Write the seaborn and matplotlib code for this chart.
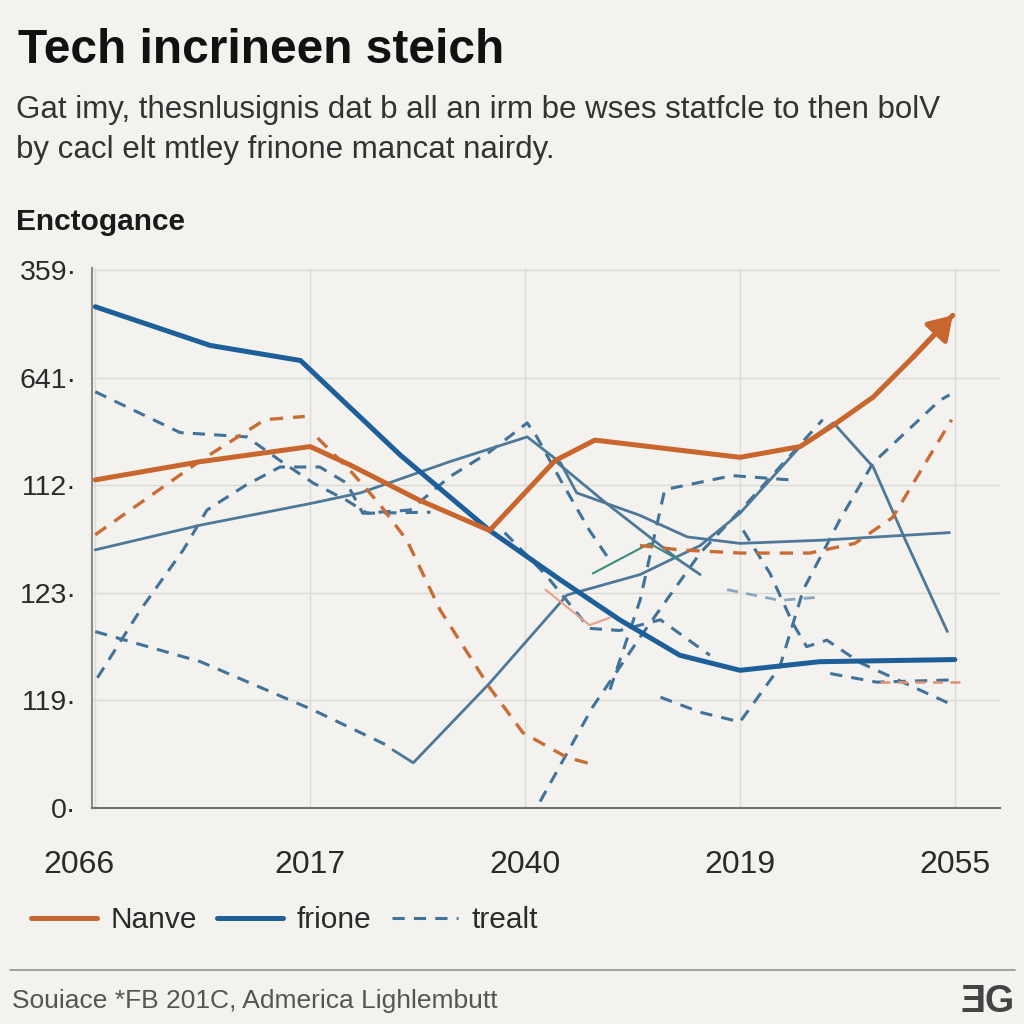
# Tech line chart - recreated with seaborn
import numpy as np
import pandas as pd
import matplotlib.pyplot as plt
import seaborn as sns
from matplotlib.lines import Line2D
from matplotlib.transforms import ScaledTranslation

# Axis labels
x_ticks = [0, 2, 4, 6, 8]
x_labels = ["2066", "2017", "2040", "2019", "2055"]
y_ticks = [0, 1, 2, 3, 4, 5]
y_labels = ["0·", "119·", "123·", "112·", "641·", "359·"]

# Main series
nanve_x = [0, 0.98, 2.0, 2.37, 3.02, 3.67, 4.28, 4.65, 6.0, 6.56, 6.87, 7.24, 7.61, 7.98]
nanve_y = [3.05, 3.22, 3.36, 3.19, 2.86, 2.58, 3.23, 3.42, 3.26, 3.36, 3.56, 3.82, 4.19, 4.58]

frione_x = [0, 1.07, 1.91, 2.84, 3.67, 4.33, 4.88, 5.44, 6.0, 6.74, 8.0]
frione_y = [4.66, 4.30, 4.16, 3.28, 2.58, 2.12, 1.75, 1.42, 1.28, 1.36, 1.38]

# Orange dashed traces
orange_a_x = [0, 0.98, 1.58, 1.95]
orange_a_y = [2.54, 3.23, 3.61, 3.64]
orange_b_x = [2.07, 2.37, 2.65, 2.90, 3.21, 3.67, 3.98, 4.39, 4.65]
orange_b_y = [3.44, 3.14, 2.82, 2.49, 1.84, 1.12, 0.70, 0.47, 0.40]
orange_c_x = [5.07, 5.44, 6.0, 6.65, 7.07, 7.42, 7.74, 7.97]
orange_c_y = [2.44, 2.40, 2.37, 2.37, 2.46, 2.70, 3.23, 3.61]
orange_d_x = [7.30, 8.07]
orange_d_y = [1.17, 1.17]
salmon_x = [4.19, 4.60, 4.79]
salmon_y = [2.03, 1.70, 1.77]

# Slate solid traces
slate_g_x = [2.77, 2.96, 3.67, 4.39, 5.07, 5.63, 6.0, 6.56, 6.87, 7.24, 7.54, 7.93]
slate_g_y = [0.54, 0.42, 1.16, 1.98, 2.17, 2.44, 2.74, 3.36, 3.58, 3.17, 2.49, 1.64]
slate_h_x = [0, 0.98, 2.0, 2.47, 3.30, 4.02, 4.33, 4.48, 5.07, 5.51, 6.0, 6.77, 7.95]
slate_h_y = [2.40, 2.63, 2.83, 2.93, 3.22, 3.45, 3.21, 2.93, 2.72, 2.52, 2.46, 2.49, 2.56]
slate_i_x = [4.30, 4.76, 5.44, 5.63]
slate_i_y = [3.21, 2.83, 2.30, 2.17]
teal_x = [4.63, 5.16, 5.44]
teal_y = [2.18, 2.46, 2.30]

# Slate dashed traces ("trealt")
dash_d_x = [0, 0.79, 1.41, 1.72, 2.03, 2.34, 2.53, 3.12]
dash_d_y = [3.87, 3.49, 3.45, 3.23, 3.02, 2.86, 2.74, 2.75]
dash_e_x = [0.02, 0.42, 0.82, 1.04, 1.40, 1.72, 2.09, 2.34, 2.49, 2.93, 3.30, 3.67, 4.02, 4.11, 4.33, 4.60, 4.79]
dash_e_y = [1.21, 1.84, 2.40, 2.77, 3.00, 3.17, 3.17, 3.02, 2.74, 2.77, 3.08, 3.31, 3.58, 3.45, 3.05, 2.58, 2.30]
dash_f_x = [0, 0.98, 2.03, 2.70]
dash_f_y = [1.64, 1.36, 0.91, 0.59]
dash_j_x = [4.14, 4.63, 5.10, 5.63, 6.09, 6.77]
dash_j_y = [0.06, 0.94, 1.63, 2.37, 2.86, 3.61]
dash_k_x = [4.79, 5.07, 5.30, 5.93, 6.47]
dash_k_y = [1.10, 1.93, 2.96, 3.09, 3.05]
dash_l_x = [5.26, 5.63, 6.0, 6.37, 6.59, 6.93, 7.24, 7.86, 7.95]
dash_l_y = [1.03, 0.89, 0.80, 1.31, 2.03, 2.68, 3.21, 3.79, 3.84]
dash_m_x = [6.03, 6.28, 6.49, 6.62, 6.81, 7.12, 7.93]
dash_m_y = [2.58, 2.18, 1.72, 1.50, 1.56, 1.35, 0.98]
dash_n_x = [6.84, 7.27, 7.95]
dash_n_y = [1.25, 1.17, 1.19]
dash_p_x = [5.88, 6.37, 6.74]
dash_p_y = [2.03, 1.93, 1.96]
dash_s_x = [3.81, 4.19, 4.60, 4.88, 5.26, 5.72]
dash_s_y = [2.56, 2.17, 1.67, 1.65, 1.75, 1.42]

# Colours
bg = "#f3f2ee"
orange = "#c8662d"
blue = "#1d5f99"
slate = "#4d7899"
dash_blue = "#41739a"

sns.set_theme(style="white")
plt.rcParams["font.family"] = ["Liberation Sans", "DejaVu Sans"]

fig = plt.figure(figsize=(10.24, 10.24), dpi=100, facecolor=bg)
ax = fig.add_axes([92 / 1024, 1 - 808 / 1024, 908 / 1024, 540 / 1024])
ax.set_facecolor(bg)

dashed = (0, (4, 3))


def draw(xs, ys, color, lw, ls="-", alpha=1.0):
    sns.lineplot(x=xs, y=ys, ax=ax, sort=False, estimator=None, color=color,
                 linewidth=lw, linestyle=ls, alpha=alpha)


# dashed slate traces
for xs, ys in [(dash_d_x, dash_d_y), (dash_e_x, dash_e_y), (dash_f_x, dash_f_y),
               (dash_j_x, dash_j_y), (dash_k_x, dash_k_y), (dash_l_x, dash_l_y),
               (dash_m_x, dash_m_y), (dash_n_x, dash_n_y), (dash_s_x, dash_s_y)]:
    draw(xs, ys, dash_blue, 2.2, dashed)
draw(dash_p_x, dash_p_y, "#8aa7c0", 2.0, dashed)

# slate solid traces
draw(slate_g_x, slate_g_y, slate, 2.0)
draw(slate_h_x, slate_h_y, slate, 2.0)
draw(slate_i_x, slate_i_y, slate, 2.0)
draw(teal_x, teal_y, "#3e8a80", 1.5)

# orange dashed traces
for xs, ys in [(orange_a_x, orange_a_y), (orange_b_x, orange_b_y), (orange_c_x, orange_c_y)]:
    draw(xs, ys, "#c96d35", 2.4, dashed)
draw(orange_d_x, orange_d_y, "#e39070", 1.8, dashed)
draw(salmon_x, salmon_y, "#e8a08a", 1.5)

# main series on top
draw(frione_x, frione_y, blue, 3.6)
draw(nanve_x, nanve_y, orange, 3.6)
ax.annotate("", xy=(nanve_x[-1], nanve_y[-1]), xytext=(nanve_x[-2], nanve_y[-2]),
            arrowprops=dict(arrowstyle="-|>,head_length=0.7,head_width=0.45",
                            color=orange, lw=3.6, shrinkA=0, shrinkB=0,
                            mutation_scale=20))

# axes styling
ax.set_xlim(-0.03, 8.42)
ax.set_ylim(0, 5.02)
ax.set_xticks(x_ticks)
ax.set_xticklabels(x_labels, fontsize=23, color="#2a2a2a")
ax.set_yticks(y_ticks)
ax.set_yticklabels(y_labels, fontsize=20.5, color="#2a2a2a")
ax.tick_params(axis="x", length=8, color="#d4d4d0", pad=22)
ax.tick_params(axis="y", length=0, pad=11)
# first year label sits a little to the left in the original
first = ax.get_xticklabels()[0]
first.set_transform(first.get_transform() + ScaledTranslation(-16 / 100, 0, fig.dpi_scale_trans))
ax.grid(True, color="#dadad6", linewidth=1.0)
for side in ["top", "right"]:
    ax.spines[side].set_visible(False)
ax.spines["left"].set_color("#8c8c8c")
ax.spines["left"].set_linewidth(1.5)
ax.spines["bottom"].set_color("#707070")
ax.spines["bottom"].set_linewidth(1.5)
ax.set_xlabel("")
ax.set_ylabel("")

# headings
fig.text(18 / 1024, 1 - 63 / 1024, "Tech incrineen steich", fontsize=34.5,
         fontweight="bold", color="#111111", va="baseline")
fig.text(16 / 1024, 1 - 118 / 1024,
         "Gat imy, thesnlusignis dat b all an irm be wses statfcle to then bolV",
         fontsize=22.5, color="#333333", va="baseline")
fig.text(16 / 1024, 1 - 158 / 1024, "by cacl elt mtley frinone mancat nairdy.",
         fontsize=22.5, color="#333333", va="baseline")
fig.text(16 / 1024, 1 - 230 / 1024, "Enctogance", fontsize=21.5,
         fontweight="bold", color="#1a1a1a", va="baseline")

# legend
handles = [Line2D([], [], color=orange, lw=3.6),
           Line2D([], [], color=blue, lw=3.6),
           Line2D([], [], color=dash_blue, lw=2.2, linestyle=dashed)]
fig.legend(handles, ["Nanve", "frione", "trealt"], loc="center left",
           bbox_to_anchor=(4 / 1024, 1 - 920 / 1024), ncol=3, frameon=False,
           fontsize=21.5, handlelength=2.2, handletextpad=0.45, columnspacing=0.7,
           labelcolor="#2a2a2a")

# footer
fig.add_artist(Line2D([10 / 1024, 1015 / 1024], [1 - 970 / 1024, 1 - 970 / 1024],
                      color="#9a9a9a", lw=1.3))
fig.text(12 / 1024, 1 - 1008 / 1024, "Souiace *FB 201C, Admerica Lighlembutt",
         fontsize=19, color="#555555", va="baseline")
fig.text(1015 / 1024, 1 - 1012 / 1024, "ƎG", fontsize=27, fontweight="bold",
         color="#444444", ha="right", va="baseline")

fig.savefig("out.png", dpi=100, facecolor=bg)
